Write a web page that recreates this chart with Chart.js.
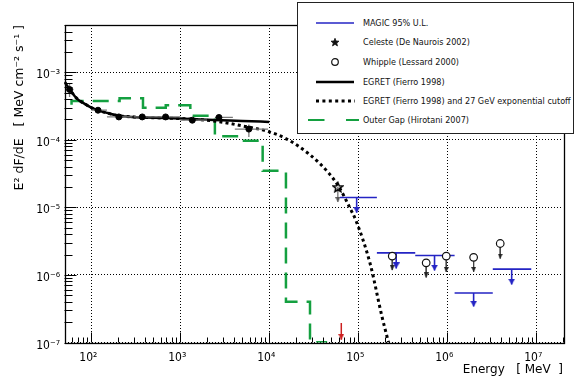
<!DOCTYPE html>
<html><head><meta charset="utf-8">
<script src="https://cdn.jsdelivr.net/npm/chart.js@4.4.0/dist/chart.umd.min.js"></script>
<style>
html,body{margin:0;padding:0;background:#fff;}
#wrap{position:relative;width:577px;height:381px;overflow:hidden;}
#c{position:absolute;left:0;top:0;}
#legend{position:absolute;left:297px;top:2px;width:277px;height:132px;border:1px solid #222;background:#fff;box-sizing:border-box;
 font-family:'DejaVu Sans Condensed','DejaVu Sans',sans-serif;font-stretch:condensed;font-size:9px;color:#111;}
#legend .s{position:absolute;left:0;}
#legend .t{position:absolute;left:65px;white-space:nowrap;line-height:12px;}
</style></head>
<body>
<div id="wrap">
<canvas id="c" width="577" height="381"></canvas>
<div id="legend"></div>
</div>
<script>
// ---------------- DATA ----------------
const xTickValues = [1e2, 1e3, 1e4, 1e5, 1e6, 1e7];
const yTickValues = [1e-7, 1e-6, 1e-5, 1e-4, 1e-3];

// EGRET (Fierro 1998) power-law fit, solid
const egretFitE = [50, 55, 60, 70, 80, 100, 120, 150, 200, 300, 500, 1000, 2000, 5000, 10000];
const egretFitF = [7.2e-4, 6.0e-4, 5.1e-4, 4.0e-4, 3.55e-4, 3.0e-4, 2.74e-4, 2.5e-4, 2.28e-4, 2.17e-4, 2.12e-4, 2.06e-4, 1.98e-4, 1.9e-4, 1.84e-4];

// EGRET with 27 GeV exponential cutoff, dotted
const cutoffE = [50, 55, 60, 70, 80, 100, 120, 150, 200, 300, 500, 1000, 1500, 2500, 4600, 10000, 15000, 22000, 37000, 59000, 80000, 95000, 136000, 185000, 219000];
const cutoffF = [7.2e-4, 6.0e-4, 5.1e-4, 4.0e-4, 3.55e-4, 3.0e-4, 2.74e-4, 2.5e-4, 2.28e-4, 2.17e-4, 2.12e-4, 2.06e-4, 2.0e-4, 1.88e-4, 1.64e-4, 1.31e-4, 1.06e-4, 7.8e-5, 4.45e-5, 2.13e-5, 1.0e-5, 6.2e-6, 1.47e-6, 2.4e-7, 1.0e-7];

// EGRET data points with error bars
const egretE    = [57, 119, 204, 374, 684, 1365, 2720, 5900];
const egretF    = [5.55e-4, 2.74e-4, 2.18e-4, 2.18e-4, 2.18e-4, 1.95e-4, 2.14e-4, 1.44e-4];
const egretElo  = [52, 100, 150, 300, 500, 1000, 2450, 4100];
const egretEhi  = [63, 150, 290, 500, 1000, 2000, 3900, 9700];
const egretFlo  = [4.3e-4, 2.55e-4, 2.08e-4, 2.1e-4, 2.1e-4, 1.86e-4, 1.97e-4, 1.10e-4];
const egretFhi  = [6.9e-4, 2.95e-4, 2.28e-4, 2.26e-4, 2.27e-4, 2.05e-4, 2.33e-4, 1.68e-4];

// Outer Gap (Hirotani 2007) histogram: bin left edges and values
const gapE = [60, 60, 208, 381, 687, 1297, 2449, 4480, 8430, 15400, 28700, 44700];
const gapF = [3.3e-4, 3.76e-4, 4.12e-4, 2.99e-4, 3.25e-4, 2.27e-4, 1.13e-4, 9.7e-5, 3.47e-5, 4.0e-7, 1.01e-7, 1.01e-7];

// Celeste (De Naurois 2002)
const celesteE = [59000];
const celesteF = [2.0e-5];
const celesteArrowEnd = [1.2e-5];

// Whipple (Lessard 2000)
const whippleE = [2.41e5, 5.8e5, 9.75e5, 1.98e6, 3.94e6];
const whippleF = [1.9e-6, 1.51e-6, 1.9e-6, 1.82e-6, 2.92e-6];
const whippleArrowEnd = [1.18e-6, 9.2e-7, 1.11e-6, 1.11e-6, 1.75e-6];

// MAGIC 95% U.L.
const magicEmin = [6.2e4, 1.62e5, 4.37e5, 1.21e6, 3.25e6];
const magicEmax = [1.62e5, 4.37e5, 1.21e6, 3.25e6, 8.8e6];
const magicUL   = [1.40e-5, 2.12e-6, 1.94e-6, 5.4e-7, 1.22e-6];
const magicArrowE   = [9.6e4, 2.67e5, 7.2e5, 1.98e6, 5.3e6];
const magicArrowEnd = [8.3e-6, 1.25e-6, 1.16e-6, 3.4e-7, 7.2e-7];

// red arrow marker
const redArrowE = [6.45e4];
const redArrowTop = [1.95e-7];
const redArrowEnd = [1.1e-7];

// ---------------- HELPERS ----------------
const BLUE = '#2424c4', GREEN = '#14a040', GREY = '#7a7a7a', RED = '#cc2020';
const pts = (xs, ys) => xs.map((x, i) => ({x, y: ys[i]}));
function segs(list){ const out=[]; list.forEach(([x1,y1,x2,y2])=>{out.push({x:x1,y:y1},{x:x2,y:y2},{x:x2,y:null});}); return out; }
function headCanvas(color, w, h){
  const c=document.createElement('canvas'); c.width=w; c.height=2*h;
  const g=c.getContext('2d'); g.fillStyle=color; g.beginPath();
  g.moveTo(0,0); g.lineTo(w,0); g.lineTo(w/2,h); g.closePath(); g.fill(); return c;
}
function starCanvas(size, color, lw){
  const c=document.createElement('canvas'); c.width=c.height=size;
  const g=c.getContext('2d'); const cx=size/2, cy=size/2+0.5, R=size/2-1, r=R*0.45;
  g.beginPath();
  for(let i=0;i<10;i++){const a=-Math.PI/2+i*Math.PI/5; const rr=i%2?r:R; g.lineTo(cx+rr*Math.cos(a), cy+rr*Math.sin(a));}
  g.closePath(); g.strokeStyle=color; g.lineWidth=lw; g.stroke(); return c;
}
const sup = s => String(s).split('').map(ch => ({'0':'⁰','1':'¹','2':'²','3':'³','4':'⁴','5':'⁵','6':'⁶','7':'⁷','8':'⁸','9':'⁹','-':'⁻'})[ch]).join('');
const decadeLabel = v => '10' + sup(Math.round(Math.log10(v)));

const errSegs = [];
egretE.forEach((e,i)=>{ errSegs.push([egretElo[i], egretF[i], egretEhi[i], egretF[i]]); errSegs.push([e, egretFlo[i], e, egretFhi[i]]); });

const FONT = "'DejaVu Sans Condensed','DejaVu Sans',sans-serif";
const TFONT = "'DejaVu Sans',sans-serif";

const frameTicks = {
  id: 'frameTicks',
  afterDraw(chart){
    const {ctx, chartArea:a, scales:{x,y}} = chart;
    ctx.save(); ctx.strokeStyle='#000';
    ctx.lineWidth=1.3;
    ctx.strokeRect(Math.round(a.left)+0.5, Math.round(a.top)+0.5, Math.round(a.right-a.left), Math.round(a.bottom-a.top));
    ctx.lineWidth=1; ctx.beginPath();
    for(let d=1; d<=7; d++) for(let m=1;m<=9;m++){
      const v=m*Math.pow(10,d); if(v<x.min||v>x.max) continue;
      const px=Math.round(x.getPixelForValue(v))+0.5; const L=(m===1)?10:5;
      ctx.moveTo(px, a.bottom); ctx.lineTo(px, a.bottom-L);
    }
    for(let d=-8; d<=-2; d++) for(let m=1;m<=9;m++){
      const v=m*Math.pow(10,d); if(v<y.min||v>y.max) continue;
      const py=Math.round(y.getPixelForValue(v))+0.5; const L=(m===1)?12:8;
      ctx.moveTo(a.left, py); ctx.lineTo(a.left+L, py);
    }
    ctx.stroke(); ctx.restore();
  }
};

const lineDS = (extra) => Object.assign({type:'line', showLine:true, pointRadius:0, tension:0, fill:false, spanGaps:false}, extra);

const datasets = [
  lineDS({label:'egret points', data: pts(egretE, egretF), showLine:false, pointRadius:3, pointBackgroundColor:'#000', pointBorderColor:'#000', order:1}),
  lineDS({label:'celeste', data: pts(celesteE, celesteF), showLine:false, pointRadius:5, pointStyle: starCanvas(12,'#000',1.5), order:1}),
  lineDS({label:'whipple', data: pts(whippleE, whippleF), showLine:false, pointRadius:3.8, pointStyle:'circle', pointBorderColor:'#111', pointBackgroundColor:'#fff', pointBorderWidth:1.2, order:1}),
  lineDS({label:'magic heads', data: pts(magicArrowE, magicArrowEnd), showLine:false, pointRadius:4, pointStyle: headCanvas(BLUE,7,6), order:2}),
  lineDS({label:'whipple heads', data: pts(whippleE, whippleArrowEnd), showLine:false, pointRadius:4, pointStyle: headCanvas('#222',5,5), order:2}),
  lineDS({label:'celeste head', data: pts(celesteE, celesteArrowEnd), showLine:false, pointRadius:4, pointStyle: headCanvas('#555',5,5), order:2}),
  lineDS({label:'red head', data: pts(redArrowE, redArrowEnd), showLine:false, pointRadius:4, pointStyle: headCanvas(RED,6,6), order:2}),
  lineDS({label:'magic lines', data: segs(magicEmin.map((e,i)=>[e, magicUL[i], magicEmax[i], magicUL[i]]).concat(magicArrowE.map((e,i)=>[e, magicUL[i], e, magicArrowEnd[i]]))), borderColor:BLUE, borderWidth:1.6, order:3}),
  lineDS({label:'whipple stems', data: segs(whippleE.map((e,i)=>[e, whippleF[i], e, whippleArrowEnd[i]])), borderColor:'#444', borderWidth:1, order:3}),
  lineDS({label:'celeste stem', data: segs(celesteE.map((e,i)=>[e, celesteF[i], e, celesteArrowEnd[i]])), borderColor:'#666', borderWidth:1.2, order:3}),
  lineDS({label:'red stem', data: segs(redArrowE.map((e,i)=>[e, redArrowTop[i], e, redArrowEnd[i]])), borderColor:RED, borderWidth:1.5, order:3}),
  lineDS({label:'egret errors', data: segs(errSegs), borderColor:GREY, borderWidth:1.3, order:4}),
  lineDS({label:'EGRET (Fierro 1998)', data: pts(egretFitE, egretFitF), borderColor:'#000', borderWidth:2.5, cubicInterpolationMode:'monotone', order:5}),
  lineDS({label:'EGRET cutoff', data: pts(cutoffE, cutoffF), borderColor:'#000', borderWidth:3, borderDash:[3,3.2], cubicInterpolationMode:'monotone', order:6}),
  lineDS({label:'Outer Gap', data: pts(gapE, gapF), borderColor:GREEN, borderWidth:2.5, borderDash:[16,9], stepped:true, order:7})
];

new Chart(document.getElementById('c'), {
  data: { datasets },
  options: {
    responsive:false, devicePixelRatio:1, animation:false,
    layout:{ padding:{left:0, right:14, top:25, bottom:0} },
    plugins:{ legend:{display:false}, tooltip:{enabled:false} },
    scales:{
      x:{ type:'logarithmic', min:50, max:2e7,
        afterBuildTicks: s => { s.ticks = xTickValues.map(v=>({value:v})); },
        afterFit: s => { s.height = 38.5; },
        grid:{ color:'#000', lineWidth:1, drawTicks:false },
        border:{ display:false, dash:[1,2] },
        ticks:{ autoSkip:false, maxRotation:0, padding:8, labelOffset:-3, color:'#000', font:{family:FONT, size:12}, callback: v => decadeLabel(v) },
        title:{ display:true, text:'Energy   [ MeV  ]', align:'end', color:'#000', font:{family:TFONT, size:12}, padding:{top:0,bottom:4} }
      },
      y:{ type:'logarithmic', min:1e-7, max:5e-3,
        afterBuildTicks: s => { s.ticks = yTickValues.map(v=>({value:v})); },
        afterFit: s => { s.width = 64.5; },
        grid:{ color:'#000', lineWidth:1, drawTicks:false },
        border:{ display:false, dash:[1,2] },
        ticks:{ autoSkip:false, padding:4.5, labelOffset:3, color:'#000', font:{family:FONT, size:12}, callback: v => decadeLabel(v) },
        title:{ display:true, text:'E² dF/dE   [ MeV cm⁻² s⁻¹ ]', align:'end', color:'#000', font:{family:TFONT, size:12.5}, padding:{top:12,bottom:0} }
      }
    }
  },
  plugins:[frameTicks]
});

// ---------------- LEGEND (HTML) ----------------
const legendRows = [
  {text:'MAGIC 95% U.L.', svg:`<line x1="18" y1="8" x2="56" y2="8" stroke="${BLUE}" stroke-width="1.6"/>`},
  {text:'Celeste (De Naurois 2002)', svg:`<polygon points="${(()=>{const p=[];for(let i=0;i<10;i++){const a=-Math.PI/2+i*Math.PI/5;const r=i%2?1.8:4.2;p.push((37+r*Math.cos(a)).toFixed(2)+','+(8.5+r*Math.sin(a)).toFixed(2));}return p.join(' ');})()}" fill="#111" stroke="#111" stroke-width="0.8"/>`},
  {text:'Whipple (Lessard 2000)', svg:`<circle cx="37" cy="8" r="3.3" fill="none" stroke="#111" stroke-width="1.2"/>`},
  {text:'EGRET  (Fierro 1998)', svg:`<line x1="18" y1="8" x2="56" y2="8" stroke="#000" stroke-width="2.5"/>`},
  {text:'EGRET (Fierro 1998) and 27 GeV exponential cutoff', svg:`<line x1="18" y1="8" x2="57" y2="8" stroke="#000" stroke-width="3" stroke-dasharray="3 3.4"/>`},
  {text:'Outer Gap  (Hirotani 2007)', svg:`<line x1="10" y1="8" x2="61" y2="8" stroke="${GREEN}" stroke-width="2" stroke-dasharray="16.5 21.5"/>`}
];
const rowCenters = [19.5, 39, 59, 78.5, 97.5, 116.5];
const lg = document.getElementById('legend');
legendRows.forEach((r,i)=>{
  const c = rowCenters[i];
  const s = document.createElement('div'); s.className='s'; s.style.top=(c-8)+'px';
  s.innerHTML = `<svg width="70" height="16" xmlns="http://www.w3.org/2000/svg">${r.svg}</svg>`;
  const t = document.createElement('div'); t.className='t'; t.style.top=(c-6)+'px'; t.textContent=r.text;
  lg.appendChild(s); lg.appendChild(t);
});
</script>
</body></html>
